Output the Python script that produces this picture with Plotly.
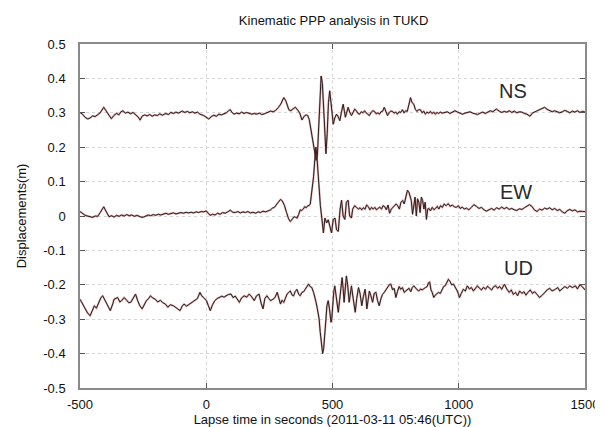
import plotly.graph_objects as go

# values (seconds, metres)
ns_t = [-500, -490, -480, -469, -460, -450, -440, -430, -420, -406, -396, -386, -376, -366, -356, -346, -338, -330, -320, -310,
        -300, -290, -280, -270, -262, -254, -244, -234, -224, -214, -204, -194, -184, -174, -160, -150, -140, -130, -120, -110,
        -95, -85, -75, -65, -55, -45, -35, -25, -10, 0, 10, 20, 30, 40, 50, 60, 70, 80, 88, 95,
        102, 110, 120, 130, 140, 150, 160, 170, 180, 190, 200, 210, 220, 230, 240, 255, 265, 275, 285, 295,
        307, 315, 327, 335, 345, 353, 362, 370, 379, 388, 395, 402, 408, 418, 426, 435, 440, 446, 451, 455,
        460, 465, 470, 474, 479, 484, 489, 494, 499, 503, 509, 516, 522, 529, 535, 542, 547, 551, 556, 562,
        568, 575, 581, 588, 595, 601, 607, 614, 620, 627, 633, 640, 646, 653, 660, 666, 673, 680, 686, 692,
        699, 705, 712, 718, 725, 731, 738, 744, 751, 757, 764, 770, 777, 783, 790, 796, 803, 809, 815, 822,
        828, 835, 841, 848, 855, 861, 868, 874, 881, 888, 894, 901, 907, 914, 920, 927, 935, 945, 955, 965,
        975, 985, 995, 1005, 1015, 1025, 1035, 1045, 1055, 1065, 1075, 1085, 1095, 1105, 1115, 1125, 1135, 1149, 1160, 1170,
        1180, 1190, 1200, 1210, 1220, 1230, 1240, 1250, 1260, 1270, 1282, 1292, 1302, 1312, 1322, 1331, 1340, 1350, 1360, 1370,
        1380, 1390, 1400, 1410, 1420, 1430, 1440, 1450, 1460, 1470, 1480, 1490, 1500]
ns_y = [0.301, 0.296, 0.287, 0.282, 0.285, 0.291, 0.289, 0.296, 0.300, 0.316, 0.305, 0.295, 0.283, 0.292, 0.298, 0.294, 0.303, 0.306, 0.299, 0.302,
        0.297, 0.301, 0.294, 0.288, 0.279, 0.290, 0.294, 0.291, 0.295, 0.290, 0.294, 0.292, 0.297, 0.293, 0.298, 0.295, 0.301, 0.298, 0.302, 0.299,
        0.305, 0.301, 0.304, 0.300, 0.303, 0.299, 0.302, 0.296, 0.292, 0.288, 0.282, 0.289, 0.293, 0.290, 0.296, 0.294, 0.298, 0.300, 0.306, 0.309,
        0.301, 0.296, 0.299, 0.297, 0.302, 0.298, 0.301, 0.299, 0.296, 0.298, 0.296, 0.299, 0.295, 0.297, 0.300, 0.305, 0.303, 0.307, 0.315, 0.325,
        0.344, 0.335, 0.309, 0.306, 0.312, 0.316, 0.308, 0.300, 0.279, 0.290, 0.294, 0.292, 0.280, 0.239, 0.195, 0.162, 0.175, 0.270, 0.370, 0.407,
        0.385, 0.300, 0.215, 0.181, 0.240, 0.330, 0.364, 0.330, 0.278, 0.267, 0.285, 0.296, 0.289, 0.277, 0.300, 0.325, 0.305, 0.287, 0.300, 0.316,
        0.302, 0.292, 0.300, 0.311, 0.305, 0.298, 0.296, 0.303, 0.300, 0.306, 0.300, 0.295, 0.292, 0.301, 0.306, 0.304, 0.297, 0.300, 0.296, 0.303,
        0.305, 0.316, 0.300, 0.292, 0.301, 0.305, 0.304, 0.299, 0.302, 0.296, 0.303, 0.301, 0.309, 0.300, 0.306, 0.304, 0.325, 0.344, 0.330, 0.325,
        0.310, 0.304, 0.309, 0.309, 0.300, 0.305, 0.296, 0.302, 0.299, 0.304, 0.298, 0.302, 0.296, 0.301, 0.298, 0.302, 0.299, 0.300, 0.303, 0.298,
        0.301, 0.306, 0.302, 0.300, 0.296, 0.299, 0.300, 0.303, 0.299, 0.297, 0.295, 0.299, 0.302, 0.298, 0.303, 0.306, 0.303, 0.311, 0.305, 0.301,
        0.304, 0.302, 0.306, 0.301, 0.305, 0.300, 0.303, 0.302, 0.298, 0.296, 0.290, 0.299, 0.303, 0.306, 0.309, 0.313, 0.316, 0.310, 0.306, 0.303,
        0.306, 0.302, 0.300, 0.303, 0.307, 0.304, 0.300, 0.305, 0.302, 0.306, 0.301, 0.304, 0.302]

ew_t = [-500, -490, -480, -470, -460, -450, -440, -430, -420, -410, -406, -400, -392, -385, -375, -365, -355, -345, -335, -325,
        -315, -305, -295, -285, -275, -265, -255, -248, -240, -230, -220, -210, -200, -190, -180, -170, -160, -150, -140, -130,
        -120, -110, -100, -90, -80, -70, -60, -50, -40, -30, -20, -10, 0, 8, 15, 25, 35, 45, 55, 65,
        75, 85, 95, 105, 115, 125, 135, 145, 155, 165, 175, 185, 196, 205, 215, 225, 235, 245, 255, 262,
        270, 280, 287, 294, 301, 310, 318, 326, 333, 340, 348, 354, 360, 366, 372, 378, 384, 390, 396, 402,
        407, 412, 418, 425, 430, 434, 438, 443, 447, 452, 457, 461, 464, 470, 477, 483, 490, 496, 503, 510,
        516, 523, 530, 536, 542, 549, 555, 562, 568, 575, 580, 588, 595, 603, 609, 616, 622, 629, 635, 642,
        648, 655, 661, 668, 674, 681, 687, 694, 700, 707, 713, 720, 726, 733, 739, 746, 752, 758, 765, 771,
        778, 784, 790, 797, 803, 807, 812, 817, 822, 827, 832, 837, 842, 847, 852, 857, 862, 867, 872, 877,
        882, 888, 895, 902, 908, 915, 921, 928, 935, 942, 950, 958, 966, 974, 982, 990, 998, 1006, 1014, 1022,
        1030, 1040, 1050, 1060, 1070, 1080, 1090, 1100, 1110, 1120, 1130, 1140, 1150, 1160, 1170, 1180, 1190, 1200, 1210, 1220,
        1230, 1240, 1250, 1260, 1270, 1280, 1290, 1299, 1310, 1320, 1330, 1340, 1350, 1360, 1370, 1380, 1390, 1400, 1410, 1420,
        1429, 1440, 1450, 1460, 1470, 1480, 1490, 1500]
ew_y = [0.013, 0.008, 0.002, 0.000, -0.002, -0.004, 0.000, -0.001, 0.010, 0.022, 0.027, 0.018, 0.005, -0.002, 0.001, -0.003, 0.002, -0.001, 0.003, 0.000,
        0.004, 0.001, 0.003, -0.001, 0.002, -0.002, -0.004, -0.003, 0.000, 0.003, 0.001, 0.004, 0.002, 0.005, 0.003, 0.006, 0.008, 0.005, 0.007, 0.009,
        0.006, 0.008, 0.010, 0.008, 0.011, 0.009, 0.011, 0.009, 0.012, 0.010, 0.013, 0.012, 0.015, 0.008, 0.002, 0.005, 0.003, 0.008, 0.005, 0.010,
        0.008, 0.012, 0.017, 0.011, 0.010, 0.013, 0.009, 0.012, 0.010, 0.013, 0.009, 0.011, 0.008, 0.012, 0.010, 0.014, 0.012, 0.015, 0.018, 0.023,
        0.025, 0.035, 0.043, 0.048, 0.044, 0.030, 0.010, -0.008, -0.016, -0.010, -0.002, -0.004, -0.006, 0.005, 0.018, 0.016, 0.020, 0.027, 0.024, 0.030,
        0.030, 0.035, 0.070, 0.114, 0.165, 0.200, 0.175, 0.120, 0.075, 0.030, -0.002, -0.035, -0.049, -0.006, -0.020, -0.011, -0.035, -0.049, -0.010, -0.006,
        -0.040, -0.045, 0.020, 0.046, 0.000, -0.010, 0.040, 0.046, 0.000, -0.006, 0.020, 0.030, 0.025, 0.020, 0.024, 0.018, 0.024, 0.020, 0.032, 0.027,
        0.018, 0.025, 0.020, 0.025, 0.018, 0.022, 0.026, 0.020, 0.030, 0.027, 0.018, 0.032, 0.008, 0.020, 0.025, 0.028, 0.035, 0.030, 0.020, 0.040,
        0.045, 0.035, 0.055, 0.075, 0.068, 0.060, 0.045, 0.005, 0.040, 0.055, 0.000, 0.050, 0.040, 0.010, 0.055, 0.045, 0.020, 0.040, -0.010, 0.020,
        0.022, 0.015, 0.025, 0.018, 0.022, 0.028, 0.020, 0.030, 0.025, 0.035, 0.030, 0.036, 0.028, 0.032, 0.027, 0.025, 0.030, 0.022, 0.026, 0.020,
        0.023, 0.018, 0.025, 0.033, 0.028, 0.022, 0.025, 0.018, 0.014, 0.019, 0.022, 0.017, 0.024, 0.020, 0.026, 0.021, 0.025, 0.019, 0.022, 0.018,
        0.016, 0.021, 0.019, 0.024, 0.028, 0.033, 0.028, 0.018, 0.013, 0.020, 0.017, 0.023, 0.020, 0.024, 0.018, 0.022, 0.016, 0.019, 0.012, 0.008,
        0.015, 0.019, 0.015, 0.018, 0.012, 0.014, 0.013, 0.013]

ud_t = [-500, -490, -480, -470, -460, -452, -443, -435, -425, -417, -410, -400, -390, -380, -370, -365, -351, -342, -335, -325,
        -315, -307, -299, -290, -280, -272, -263, -254, -245, -237, -228, -221, -212, -202, -192, -182, -172, -162, -152, -142,
        -130, -120, -110, -104, -95, -88, -78, -65, -55, -45, -35, -25, -18, -10, 1, 8, 16, 25, 34, 43,
        53, 62, 70, 79, 88, 98, 106, 115, 122, 131, 140, 150, 160, 170, 180, 190, 199, 209, 218, 225,
        232, 240, 248, 255, 264, 272, 281, 288, 294, 300, 307, 313, 320, 327, 333, 340, 346, 352, 359, 366,
        372, 379, 386, 392, 398, 405, 411, 418, 425, 430, 435, 440, 447, 451, 455, 458, 461, 465, 470, 474,
        478, 483, 488, 494, 497, 500, 505, 509, 515, 519, 523, 528, 533, 538, 542, 546, 550, 555, 560, 566,
        570, 575, 582, 590, 596, 603, 609, 616, 622, 629, 633, 636, 641, 646, 652, 659, 665, 672, 678, 685,
        692, 698, 705, 712, 718, 725, 731, 738, 744, 751, 757, 764, 770, 777, 784, 790, 797, 803, 810, 816,
        822, 829, 836, 842, 849, 855, 862, 868, 875, 880, 885, 890, 895, 901, 907, 914, 920, 927, 933, 940,
        946, 952, 959, 965, 972, 979, 985, 992, 998, 1003, 1010, 1018, 1026, 1034, 1042, 1050, 1058, 1066, 1074, 1082,
        1090, 1098, 1106, 1114, 1122, 1130, 1138, 1146, 1154, 1162, 1170, 1181, 1190, 1200, 1208, 1216, 1225, 1233, 1241, 1250,
        1258, 1266, 1274, 1283, 1292, 1300, 1310, 1320, 1331, 1340, 1350, 1360, 1370, 1383, 1392, 1400, 1410, 1420, 1430, 1440,
        1450, 1462, 1470, 1480, 1490, 1500]
ud_y = [-0.242, -0.255, -0.270, -0.282, -0.290, -0.278, -0.261, -0.268, -0.252, -0.237, -0.232, -0.248, -0.262, -0.275, -0.255, -0.242, -0.237, -0.250, -0.246, -0.237,
        -0.245, -0.252, -0.251, -0.240, -0.227, -0.245, -0.261, -0.270, -0.255, -0.246, -0.240, -0.232, -0.238, -0.242, -0.250, -0.245, -0.252, -0.256, -0.265, -0.258,
        -0.261, -0.266, -0.270, -0.275, -0.262, -0.256, -0.262, -0.256, -0.250, -0.246, -0.240, -0.222, -0.232, -0.238, -0.246, -0.260, -0.275, -0.258, -0.246, -0.240,
        -0.237, -0.233, -0.236, -0.232, -0.228, -0.227, -0.237, -0.233, -0.242, -0.251, -0.238, -0.232, -0.236, -0.227, -0.235, -0.246, -0.232, -0.227, -0.255, -0.270,
        -0.240, -0.232, -0.240, -0.246, -0.242, -0.237, -0.222, -0.240, -0.256, -0.245, -0.251, -0.240, -0.227, -0.222, -0.218, -0.230, -0.232, -0.220, -0.213, -0.227,
        -0.232, -0.222, -0.220, -0.213, -0.205, -0.198, -0.205, -0.208, -0.222, -0.235, -0.251, -0.270, -0.299, -0.335, -0.366, -0.385, -0.400, -0.385, -0.347, -0.300,
        -0.260, -0.246, -0.270, -0.309, -0.300, -0.261, -0.220, -0.203, -0.235, -0.265, -0.280, -0.245, -0.200, -0.179, -0.210, -0.251, -0.215, -0.174, -0.200, -0.251,
        -0.230, -0.203, -0.240, -0.280, -0.240, -0.208, -0.225, -0.261, -0.235, -0.213, -0.240, -0.270, -0.245, -0.218, -0.232, -0.251, -0.225, -0.222, -0.245, -0.261,
        -0.240, -0.228, -0.222, -0.215, -0.208, -0.200, -0.198, -0.215, -0.210, -0.237, -0.220, -0.205, -0.213, -0.208, -0.222, -0.218, -0.215, -0.210, -0.220, -0.208,
        -0.203, -0.210, -0.215, -0.218, -0.212, -0.215, -0.210, -0.208, -0.205, -0.194, -0.192, -0.215, -0.222, -0.237, -0.230, -0.227, -0.222, -0.225, -0.215, -0.205,
        -0.203, -0.195, -0.184, -0.190, -0.200, -0.198, -0.205, -0.215, -0.225, -0.237, -0.225, -0.213, -0.218, -0.203, -0.212, -0.208, -0.218, -0.212, -0.203, -0.210,
        -0.215, -0.207, -0.213, -0.204, -0.210, -0.215, -0.206, -0.203, -0.210, -0.205, -0.213, -0.198, -0.212, -0.222, -0.215, -0.228, -0.222, -0.232, -0.218, -0.225,
        -0.220, -0.230, -0.222, -0.215, -0.225, -0.220, -0.228, -0.237, -0.230, -0.222, -0.215, -0.210, -0.218, -0.213, -0.208, -0.218, -0.212, -0.205, -0.210, -0.203,
        -0.208, -0.203, -0.212, -0.200, -0.206, -0.215]

labels = ["NS", "EW", "UD"]
label_t = [1214, 1226, 1237]
label_y = [0.364, 0.071, -0.150]

x_ticks = [-500, 0, 500, 1000, 1500]
x_ticktext = ["-500", "0", "500", "1000", "1500"]
y_ticks = [0.5, 0.4, 0.3, 0.2, 0.1, 0, -0.1, -0.2, -0.3, -0.4, -0.5]
y_ticktext = ["0.5", "0.4", "0.3", "0.2", "0.1", "0", "-0.1", "-0.2", "-0.3", "-0.4", "-0.5"]

FONT = "Liberation Sans, Arial"

fig = go.Figure()
for t, y in [(ns_t, ns_y), (ew_t, ew_y), (ud_t, ud_y)]:
    # reddish halo under a dark line, like the original
    fig.add_trace(go.Scatter(x=t, y=y, mode="lines", line=dict(color="rgba(160,40,40,0.4)", width=2),
                             hoverinfo="skip", showlegend=False))
    fig.add_trace(go.Scatter(x=t, y=y, mode="lines", line=dict(color="#2a1e1e", width=1),
                             showlegend=False))

for name, t, y in zip(labels, label_t, label_y):
    fig.add_annotation(x=t, y=y, text=name, showarrow=False,
                       font=dict(family=FONT, size=20, color="#2a2a2a"))

axis_common = dict(showline=True, linecolor="#8a8a8a", linewidth=1.5, mirror="ticks",
                   ticks="inside", ticklen=5, tickcolor="#555", showgrid=True,
                   gridcolor="#d6d6d6", griddash="dot", gridwidth=1, zeroline=False,
                   tickfont=dict(family=FONT, size=13, color="#111"))

fig.update_layout(
    width=603, height=427,
    margin=dict(l=72, r=20, t=36, b=44),
    paper_bgcolor="white", plot_bgcolor="white",
    title=dict(text="Kinematic PPP analysis in TUKD", x=0.54, xanchor="center", y=0.972, yanchor="middle",
               font=dict(family=FONT, size=13, color="#111")),
    xaxis=dict(range=[-500, 1500], tickvals=x_ticks, ticktext=x_ticktext, ticklabelstandoff=4,
               title=dict(text="Lapse time in seconds (2011-03-11 05:46(UTC))", standoff=2,
                          font=dict(family=FONT, size=13, color="#111")),
               **axis_common),
    yaxis=dict(range=[-0.5, 0.5], tickvals=y_ticks, ticktext=y_ticktext, ticklabelstandoff=10,
               title=dict(text="Displacements(m)", standoff=14,
                          font=dict(family=FONT, size=13, color="#111")),
               **axis_common),
)

fig.write_html("out.html")
